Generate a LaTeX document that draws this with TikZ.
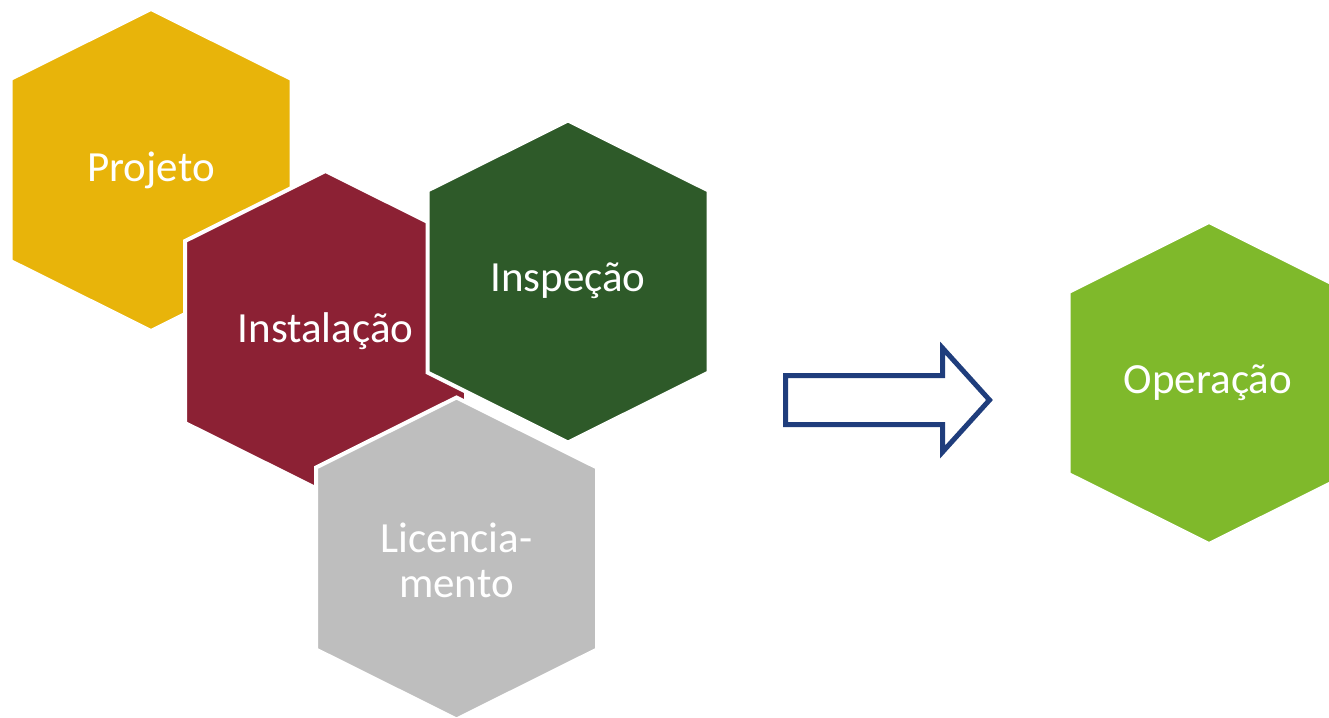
\documentclass[tikz,border=0pt]{standalone}
\usepackage{fontspec}
\setmainfont{Carlito}
\definecolor{cProjeto}{RGB}{232,180,10}
\definecolor{cInstal}{RGB}{140,33,52}
\definecolor{cInsp}{RGB}{46,90,41}
\definecolor{cLic}{RGB}{190,190,190}
\definecolor{cOper}{RGB}{127,185,43}
\definecolor{cArrow}{RGB}{31,61,124}
\newcommand{\hexshape}[3]{%
  \fill[#3, draw=white, line width=4pt, line join=miter]
    (#1,#2-161) -- (#1+140.5,#2-91) -- (#1+140.5,#2+91) -- (#1,#2+161)
    -- (#1-140.5,#2+91) -- (#1-140.5,#2-91) -- cycle;}
\tikzset{hexlabel/.style={text=white, align=center, inner sep=0pt, font=\fontsize{43}{45}\selectfont}}
\begin{document}
\begin{tikzpicture}[x=1pt,y=-1pt]
\useasboundingbox (0,0) rectangle (1329,717);
\clip (0,0) rectangle (1329,717);
\hexshape{151}{170}{cProjeto}
\node[hexlabel] (projeto) at (151,170) {Projeto};
\hexshape{325.5}{332}{cInstal}
\node[hexlabel] (instalacao) at (325.5,331) {Instalação};
\hexshape{568}{281.5}{cInsp}
\node[hexlabel] (inspecao) at (568,281) {Inspeção};
\hexshape{456.5}{558.5}{cLic}
\node[hexlabel] (licenciamento) at (456.5,560) {Licencia-\\mento};
\hexshape{1209}{383}{cOper}
\node[hexlabel] (operacao) at (1208,383) {Operação};
\draw[cArrow, line width=5pt, line join=miter, fill=white]
  (785.5,375.5) -- (942.5,375.5) -- (942.5,348) -- (989.5,400)
  -- (942.5,452) -- (942.5,424.5) -- (785.5,424.5) -- cycle;
\end{tikzpicture}
\end{document}
